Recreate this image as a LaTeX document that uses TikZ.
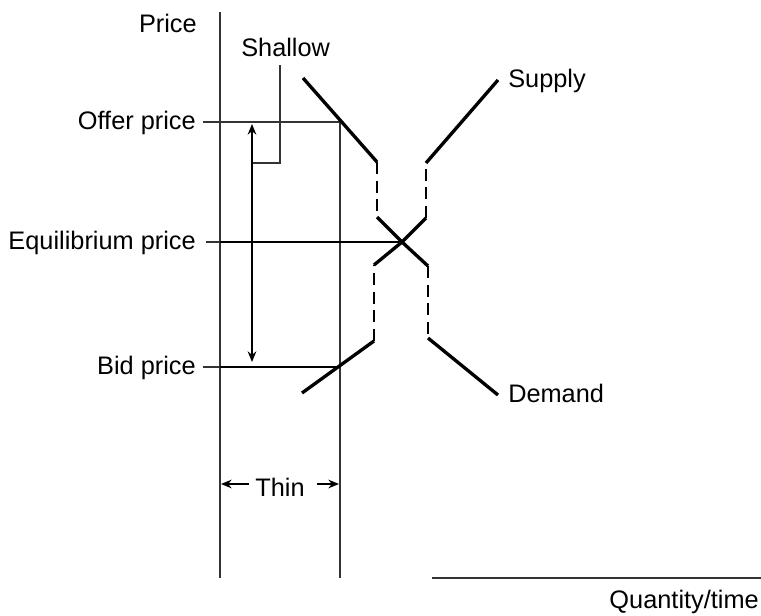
\documentclass[tikz,border=0pt]{standalone}
\usepackage{fontspec}
\setmainfont{Liberation Sans}
\usetikzlibrary{arrows.meta}
\begin{document}
\begin{tikzpicture}[x=0.75pt,y=-0.75pt,
  thinline/.style={line width=1.0pt,draw=black!80},
  midline/.style={line width=2.2pt},
  curve/.style={line width=2.5pt,line join=miter},
  dashL/.style={line width=2.2pt,dash pattern=on 9pt off 5pt},
  dashR/.style={line width=1.3pt,dash pattern=on 9pt off 5pt},
  lbl/.style={font=\fontsize{19}{22}\selectfont,inner sep=0pt},
  arr/.style={-{Stealth[length=8pt,width=6.5pt]},line width=1.0pt}]
\useasboundingbox (0,0) rectangle (761,615);
% axes
\coordinate (ytop) at (220,12);
\coordinate (org) at (220,578);
\coordinate (xs) at (432,578);
\coordinate (xe) at (761,578);
\draw[thinline] (ytop) -- (org);
\draw[thinline] (xs) -- (xe);
% key points
\coordinate (X) at (402,242);
\coordinate (offA) at (220,122);
\coordinate (offB) at (340,122);
\coordinate (thinTop) at (340,122);
\coordinate (thinBot) at (340,578);
\coordinate (bidA) at (220,367);
\coordinate (bidB) at (340,367);
\coordinate (eqA) at (220,242);
\draw[thinline] (thinTop) -- (thinBot);
% labels
\node[lbl,anchor=base east] (price) at (197,32) {Price};
\node[lbl,anchor=base east] (offer) at (196,129) {Offer price};
\node[lbl,anchor=base east] (equil) at (196,249) {Equilibrium price};
\node[lbl,anchor=base east] (bid) at (196,374) {Bid price};
\node[lbl,anchor=base west] (shallow) at (241,56) {Shallow};
\node[lbl,anchor=base west] (supply) at (508,87) {Supply};
\node[lbl,anchor=base west] (demand) at (508,402) {Demand};
\node[lbl,anchor=base east] (qty) at (759,608) {Quantity/time};
\node[lbl] (thin) at (280,487) {Thin};
% price lines
\draw[thinline] (offer.east |- offA) ++(7,0) -- (offB);
\draw[thinline] (equil.east |- eqA) ++(10,0) -- (eqA);
\draw[midline] (eqA) -- (X);
\draw[thinline] (bid.east |- bidA) ++(7,0) -- (bidA);
\draw[midline] (bidA) -- (bidB);
% shallow bracket and arrow
\coordinate (shTop) at (280,65);
\coordinate (shCorner) at (280,163);
\coordinate (shEnd) at (252,163);
\coordinate (arTop) at (252,124);
\coordinate (arBot) at (252,362);
\draw[thinline] (shTop) -- (shCorner) -- (shEnd);
\draw[arr,{Stealth[length=8pt,width=6.5pt]}-{Stealth[length=8pt,width=6.5pt]}] (arTop) -- (arBot);
% thin arrows
\coordinate (thL) at (221,484);
\coordinate (thR) at (339,484);
\draw[arr] (thin.west) ++(-6,-3) -- (thL);
\draw[arr] (thin.east) ++(12,-3) -- (thR);
% demand curve
\coordinate (D1) at (303,78);
\coordinate (D3) at (377,162);
\coordinate (D4) at (377,217);
\coordinate (D5) at (428,266);
\coordinate (D6) at (428,338);
\coordinate (D7) at (498,395);
\draw[curve] (D1) -- (D3);
\draw[dashL] (D3) -- (D4);
\draw[curve] (D4) -- (X) -- (D5);
\draw[dashR] (D5) -- (D6);
\draw[curve] (D6) -- (D7);
% supply curve
\coordinate (S1) at (302,393);
\coordinate (S2) at (374,341);
\coordinate (S3) at (374,265);
\coordinate (S4) at (426,218);
\coordinate (S5) at (426,163);
\coordinate (S6) at (498,80);
\draw[curve] (S1) -- (S2);
\draw[dashL] (S2) -- (S3);
\draw[curve] (S3) -- (X) -- (S4);
\draw[dashR] (S4) -- (S5);
\draw[curve] (S5) -- (S6);
\end{tikzpicture}
\end{document}
